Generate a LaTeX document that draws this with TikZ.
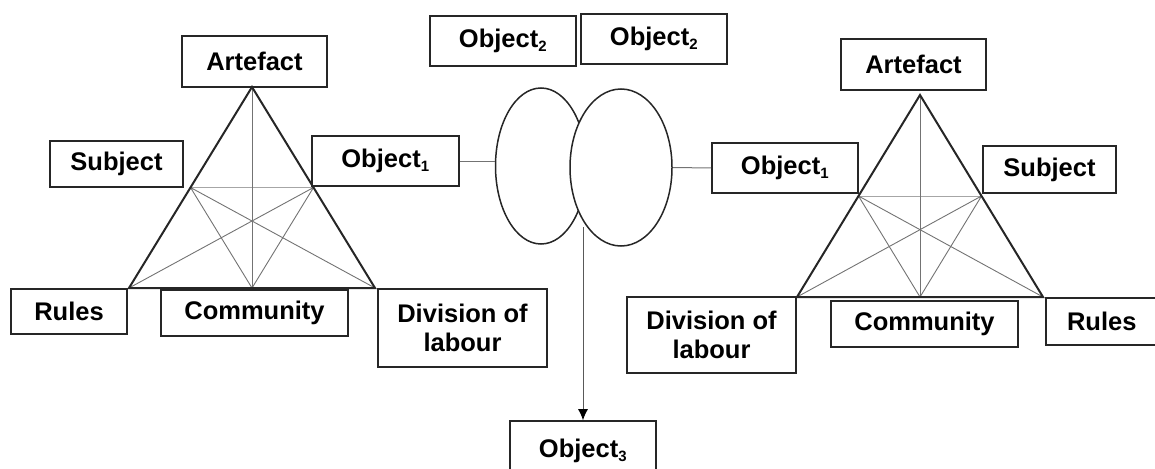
\documentclass[tikz,border=0pt]{standalone}
\usepackage{fontspec}
\setmainfont{Liberation Sans}
\usetikzlibrary{shapes.geometric,arrows.meta}
\tikzset{
  box/.style={draw=black!85, line width=1.6pt, rectangle, inner sep=0pt,
    font=\fontsize{25.5}{29}\selectfont\bfseries, align=center},
  oval/.style={draw=black!85, fill=white, line width=1.5pt, ellipse, inner sep=0pt},
  side/.style={draw=black!85, line width=2pt},
  inner/.style={draw=black!55, line width=0.9pt},
  midline/.style={draw=black!35, line width=1pt},
  link/.style={draw=black!55, line width=1pt},
}
\newcommand{\sub}[1]{\textsubscript{\fontsize{15}{15}\selectfont #1}}
\begin{document}
\begin{tikzpicture}[x=1pt,y=-1pt]
\useasboundingbox (0,0) rectangle (1155,468);
\clip (0,0) rectangle (1155,468);

% ---- left activity triangle ----
\coordinate (lA)  at (252,87);
\coordinate (lBL) at (129,288);
\coordinate (lBR) at (375,288);
\coordinate (lML) at (190.5,187.5);
\coordinate (lMR) at (313.5,187.5);
\coordinate (lBM) at (252,288);
\draw[midline] (lML) -- (lMR);
\draw[inner] (lA) -- (lBM);
\draw[inner] (lML) -- (lBM) (lML) -- (lBR);
\draw[inner] (lMR) -- (lBM) (lMR) -- (lBL);
\draw[side, line join=miter] (lA) -- (lBL) -- (lBR) -- cycle;

% ---- right activity triangle ----
\coordinate (rA)  at (920,95);
\coordinate (rBL) at (797,297);
\coordinate (rBR) at (1043,297);
\coordinate (rML) at (858.5,196);
\coordinate (rMR) at (981.5,196);
\coordinate (rBM) at (920,297);
\draw[midline] (rML) -- (rMR);
\draw[inner] (rA) -- (rBM);
\draw[inner] (rML) -- (rBM) (rML) -- (rBR);
\draw[inner] (rMR) -- (rBM) (rMR) -- (rBL);
\draw[side, line join=miter] (rA) -- (rBL) -- (rBR) -- cycle;

% ---- left system labels ----
\node[box, minimum width=145pt, minimum height=51pt] (artL) at (254.5,61.5) {Artefact};
\node[box, minimum width=133pt, minimum height=46pt] (subL) at (116.5,164) {Subject};
\node[box, minimum width=147pt, minimum height=50pt] (objL) at (385.5,161) {Object\sub{1}};
\node[box, minimum width=116pt, minimum height=45pt] (rulL) at (69,311.5) {Rules};
\node[box, minimum width=187pt, minimum height=46pt] (comL) at (254.5,313) {Community};
\node[box, minimum width=169pt, minimum height=78pt] (divL) at (462.5,328) {Division of\\labour};

% ---- shared objects: the right oval is drawn over the left one ----
\node[box, minimum width=146pt, minimum height=50pt] (objA) at (503,41) {Object\sub{2}};
\node[box, minimum width=146pt, minimum height=50pt] (objB) at (654,39) {Object\sub{2}};
\node[oval, minimum width=91pt, minimum height=156pt] (ellL) at (541,166) {};
\node[oval, minimum width=102pt, minimum height=157pt] (ellR) at (621,167.5) {};
\node[box, minimum width=146pt, minimum height=60pt] (obj3) at (583,451) {Object\sub{3}};
\coordinate (meet) at (583,227);

% ---- right system labels ----
\node[box, minimum width=146pt, minimum height=50pt] (objR) at (785,168) {Object\sub{1}};
\node[box, minimum width=169pt, minimum height=76pt] (divR) at (711.5,335) {Division of\\labour};
\node[box, minimum width=145pt, minimum height=51pt] (artR) at (913.5,64.5) {Artefact};
\node[box, minimum width=133pt, minimum height=47pt] (subR) at (1049.5,169.5) {Subject};
\node[box, minimum width=187pt, minimum height=46pt] (comR) at (924.5,324) {Community};
\node[box, minimum width=119pt, minimum height=47pt, text width=119pt, align=left]
  (rulR) at (1105.5,321.5) {\hspace*{21pt}Rules};

% ---- connectors ----
\draw[link] (objL.east) -- (ellL.west |- objL.east);
\draw[link] (ellR.east) -- (objR.west);
\draw[link, draw=black!65, -{Latex[length=11pt,width=10pt,fill=black,black]}] (meet) -- (obj3.north);
\end{tikzpicture}
\end{document}
